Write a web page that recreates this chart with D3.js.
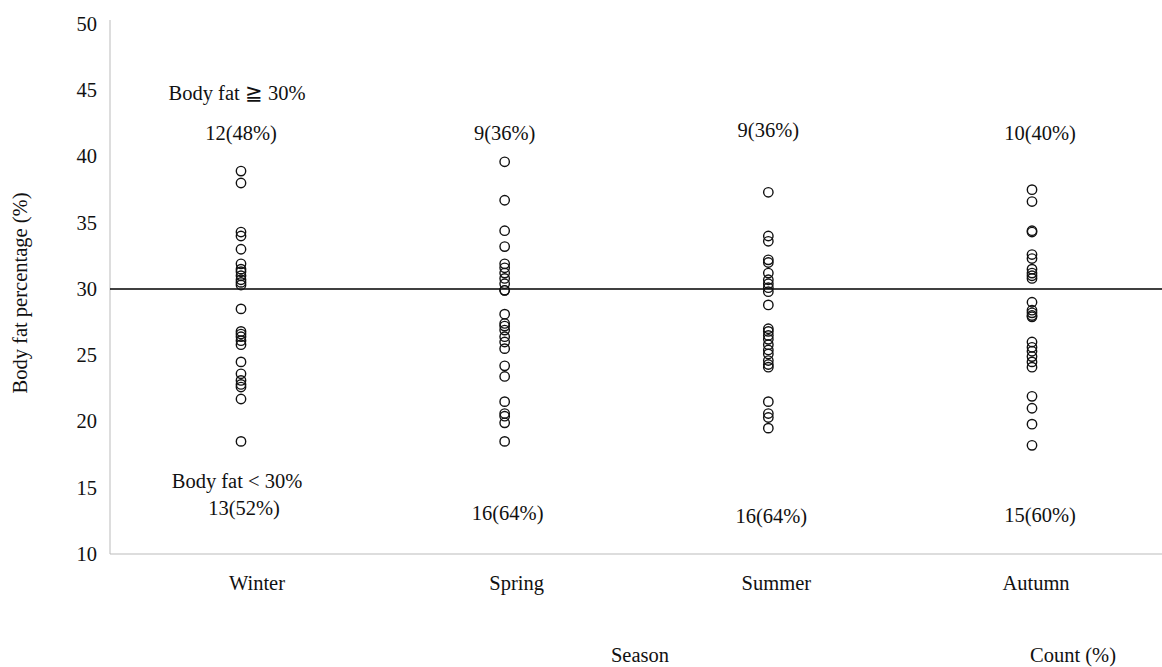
<!DOCTYPE html>
<html>
<head>
<meta charset="utf-8">
<script src="https://cdn.jsdelivr.net/npm/d3@7"></script>
<style>
  body { margin: 0; background: #fff; }
  text { font-family: "Liberation Serif", "Times New Roman", serif; fill: #111; }
</style>
</head>
<body>
<script>
var width = 1162, height = 667;

var seasons = ["Winter", "Spring", "Summer", "Autumn"];
var yTicks = [10, 15, 20, 25, 30, 35, 40, 45, 50];

// body fat values, one array per season
var winter = [38.9, 38.0, 34.3, 34.0, 33.0, 31.9, 31.5, 31.3, 31.0, 30.7, 30.5, 30.3,
              28.5, 26.8, 26.6, 26.4, 26.1, 25.8, 24.5, 23.6, 23.1, 22.8, 22.6, 21.7, 18.5];
var spring = [39.6, 36.7, 34.4, 33.2, 31.9, 31.6, 31.2, 30.8, 30.4,
              29.9, 28.1, 27.4, 27.2, 26.9, 26.4, 26.0, 25.5, 24.2, 23.4, 21.5, 20.6, 20.4, 19.9, 18.5, 29.9];
var summer = [37.3, 34.0, 33.6, 32.2, 32.0, 31.2, 30.7, 30.4, 30.1,
              29.8, 28.8, 27.0, 26.8, 26.5, 26.2, 25.8, 25.4, 25.1, 24.6, 24.3, 24.1, 21.5, 20.6, 20.3, 19.5];
var autumn = [37.5, 36.6, 34.4, 34.3, 32.6, 32.3, 31.5, 31.2, 31.0, 30.8,
              29.0, 28.4, 28.2, 27.9, 26.0, 25.6, 25.3, 24.9, 24.5, 24.1, 21.9, 21.0, 19.8, 18.2, 28.0];
var values = [winter, spring, summer, autumn];

var countsAbove = ["12(48%)", "9(36%)", "9(36%)", "10(40%)"];
var countsBelow = ["13(52%)", "16(64%)", "16(64%)", "15(60%)"];

var threshold = 30;
var fs = "20.5px";

var svg = d3.select("body").append("svg")
    .attr("width", width)
    .attr("height", height);

var y = d3.scaleLinear().domain([10, 50]).range([554, 24]);
var x = d3.scalePoint().domain(seasons).range([241, 1032]);
// the category labels sit a little off the point columns
var xLab = d3.scalePoint().domain(seasons).range([257, 1036]);

// axes lines (light grey)
svg.append("line")
    .attr("x1", 110).attr("x2", 110)
    .attr("y1", 20).attr("y2", y(10))
    .attr("stroke", "#bbb").attr("stroke-width", 1);
svg.append("line")
    .attr("x1", 110).attr("x2", width)
    .attr("y1", y(10)).attr("y2", y(10))
    .attr("stroke", "#bbb").attr("stroke-width", 1);

// y tick labels
svg.append("g").selectAll("text")
    .data(yTicks)
  .join("text")
    .attr("x", 97)
    .attr("y", d => y(d))
    .attr("dy", "0.33em")
    .attr("text-anchor", "end")
    .style("font-size", fs)
    .text(d => d);

// threshold line at 30%
svg.append("line")
    .attr("x1", 110).attr("x2", width)
    .attr("y1", y(threshold)).attr("y2", y(threshold))
    .attr("stroke", "#000").attr("stroke-width", 1.3);

// points
var pts = [];
values.forEach((arr, i) => arr.forEach(v => pts.push({season: seasons[i], v: v})));
svg.append("g")
    .attr("fill", "none")
    .attr("stroke", "#111")
    .attr("stroke-width", 1.4)
  .selectAll("circle")
  .data(pts)
  .join("circle")
    .attr("cx", d => x(d.season))
    .attr("cy", d => y(d.v))
    .attr("r", 4.7);

// season labels
svg.append("g").selectAll("text")
    .data(seasons)
  .join("text")
    .attr("x", d => xLab(d))
    .attr("y", 590)
    .attr("text-anchor", "middle")
    .style("font-size", fs)
    .text(d => d);

// counts
svg.append("g").selectAll("text")
    .data(countsAbove)
  .join("text")
    .attr("x", (d, i) => x(seasons[i]) + (i == 3 ? 8 : 0))
    .attr("y", (d, i) => i == 2 ? 137 : 140)
    .attr("text-anchor", "middle")
    .style("font-size", fs)
    .text(d => d);
svg.append("g").selectAll("text")
    .data(countsBelow)
  .join("text")
    .attr("x", (d, i) => x(seasons[i]) + (i == 3 ? 8 : 3))
    .attr("y", (d, i) => [515, 520, 523, 522][i])
    .attr("text-anchor", "middle")
    .style("font-size", fs)
    .text(d => d);

svg.append("text")
    .attr("x", 237).attr("y", 100)
    .attr("text-anchor", "middle")
    .style("font-size", fs)
    .text("Body fat \u2267 30%");
svg.append("text")
    .attr("x", 237).attr("y", 488)
    .attr("text-anchor", "middle")
    .style("font-size", fs)
    .text("Body fat < 30%");

// axis titles
svg.append("text")
    .attr("x", 640).attr("y", 662)
    .attr("text-anchor", "middle")
    .style("font-size", fs)
    .text("Season");
svg.append("text")
    .attr("x", 1073).attr("y", 662)
    .attr("text-anchor", "middle")
    .style("font-size", fs)
    .text("Count (%)");
svg.append("text")
    .attr("transform", "translate(27," + y(29.7) + ") rotate(-90)")
    .attr("text-anchor", "middle")
    .style("font-size", fs)
    .text("Body fat percentage (%)");
</script>
</body>
</html>
